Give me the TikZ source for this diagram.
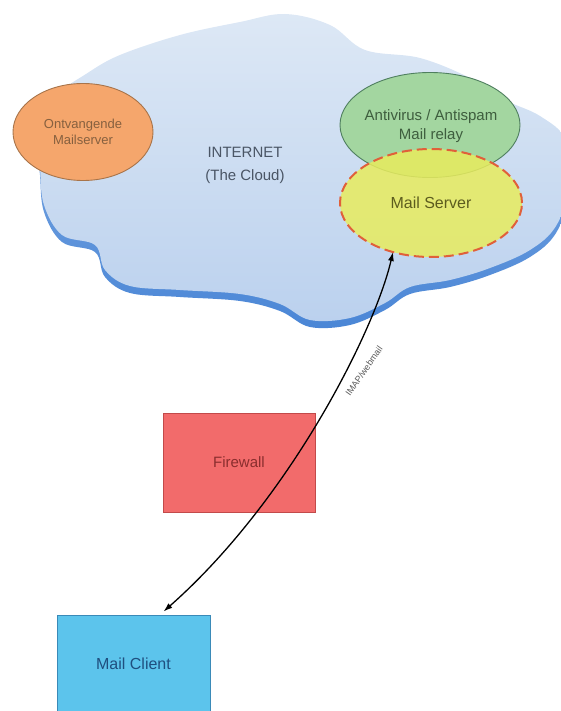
\documentclass[tikz,border=0pt]{standalone}
\usepackage{fontspec}
\setmainfont{Liberation Sans}
\usetikzlibrary{shapes.geometric,arrows.meta,calc}

\definecolor{cloudtop}{HTML}{DDE8F5}
\definecolor{cloudbot}{HTML}{BBD1EE}
\definecolor{cloudedge}{HTML}{4A86D6}
\definecolor{cloudedgelt}{HTML}{8DB4E6}
\definecolor{orfill}{HTML}{F5A66C}
\definecolor{ordraw}{HTML}{A8744A}
\definecolor{ortext}{HTML}{86603F}
\definecolor{grfill}{HTML}{A3D6A0}
\definecolor{grdraw}{HTML}{4F7F5F}
\definecolor{grtext}{HTML}{3E5E3E}
\definecolor{yefill}{HTML}{E8EC5E}
\definecolor{yedraw}{HTML}{E0603A}
\definecolor{yetext}{HTML}{5C5C1E}
\definecolor{fwfill}{HTML}{F26B6B}
\definecolor{fwdraw}{HTML}{C24A4A}
\definecolor{fwtext}{HTML}{8A2E2E}
\definecolor{clfill}{HTML}{5CC4EC}
\definecolor{cldraw}{HTML}{3A8AB8}
\definecolor{cltext}{HTML}{1F4F7F}
\definecolor{nettext}{HTML}{4A5565}

\tikzset{
  oval/.style={ellipse, inner sep=0pt, align=center, line width=0.9pt},
  boxnode/.style={rectangle, inner sep=0pt, align=center, line width=0.9pt},
  link/.style={line width=1.3pt, black, {Latex[length=9pt,width=6pt]}-{Latex[length=9pt,width=6pt]}},
}

\newcommand{\cloudoutline}{plot[smooth cycle, tension=0.6] coordinates {
  (120,55) (180,35) (240,22) (285,14) (330,25) (365,50) (420,58) (470,78)
  (505,100) (540,116) (566,140) (570,185) (556,226) (530,250) (490,268)
  (450,280) (410,287) (385,303) (350,318) (310,320) (280,304) (240,294)
  (180,290) (130,286) (105,270) (95,245) (62,235) (44,205) (40,168)
  (38,130) (56,96) (86,74)}}

\begin{document}
\begin{tikzpicture}[x=1pt,y=-1pt]
\useasboundingbox (0,0) rectangle (561,711);
\clip (0,0) rectangle (561,711);

% cloud: darker lower rim, then the lit top surface
\begin{scope}[yshift=-7pt]
  \path[top color=cloudedgelt, bottom color=cloudedge] \cloudoutline;
\end{scope}
\path[top color=cloudtop, bottom color=cloudbot] \cloudoutline;

\node[text=nettext, align=center, font=\fontsize{15}{23}\selectfont] (net) at (245,165)
  {INTERNET\\(The Cloud)};

\node[oval, fill=orfill, draw=ordraw, minimum width=140pt, minimum height=97pt,
  text=ortext, font=\fontsize{13}{16}\selectfont] (recv) at (83,132)
  {Ontvangende\\Mailserver};

\node[oval, fill=grfill, draw=grdraw, minimum width=180pt, minimum height=105pt] (relay) at (430,125) {};
\node[oval, fill=yefill, fill opacity=0.85, draw=yedraw, line width=2pt,
  dash pattern=on 10pt off 5pt, minimum width=182pt, minimum height=108pt,
  text opacity=1, text=yetext, font=\fontsize{16}{19}\selectfont] (mail) at (431,203) {Mail Server};
\node[text=grtext, align=center, font=\fontsize{15}{19}\selectfont] (relaytxt) at (431,126.5)
  {Antivirus / Antispam\\Mail relay};

\node[boxnode, fill=fwfill, draw=fwdraw, minimum width=152pt, minimum height=99pt,
  text=fwtext, font=\fontsize{15}{18}\selectfont] (fw) at (239,462.5) {Firewall};

\node[boxnode, fill=clfill, draw=cldraw, minimum width=153pt, minimum height=98pt,
  text=cltext, font=\fontsize{16}{19}\selectfont] (client) at (133.5,664) {Mail Client};

\coordinate (top) at ($(mail.center)+(-38,49)$);
\coordinate (bot) at ($(client.north)+(30,-3)$);
\draw[link] (bot) .. controls (290,500) and (375,330) .. (top);
\node[rotate=55, font=\fontsize{9}{10}\selectfont, text=black!65] (lbl) at (364,371) {IMAP/webmail};
\end{tikzpicture}
\end{document}
